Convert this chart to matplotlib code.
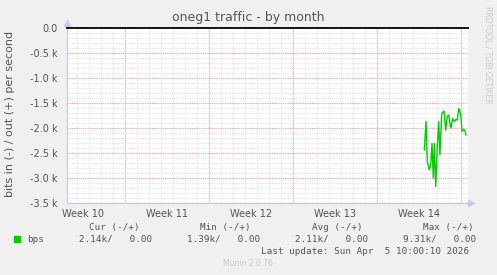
import matplotlib
matplotlib.use("Agg")
import matplotlib.pyplot as plt

# data (x = days from left edge, y = kbit/s, "in" drawn negative)
days = [29.78, 29.92, 30.03, 30.19, 30.31, 30.42, 30.53, 30.61, 30.73, 30.86,
        30.98, 31.08, 31.23, 31.42, 31.56, 31.69, 31.81, 31.92, 32.00, 32.14,
        32.28, 32.42, 32.53, 32.64, 32.75, 32.83, 32.92, 33.03, 33.14, 33.25]
bps_in = [-2.44, -1.87, -2.67, -2.84, -2.74, -2.31, -3.00, -2.31, -3.17, -2.37,
          -1.87, -2.54, -1.71, -1.66, -2.04, -1.77, -1.74, -1.91, -2.00, -1.81,
          -1.87, -1.83, -1.84, -1.61, -1.67, -1.77, -2.07, -2.03, -2.04, -2.14]

week_starts = [4.83, 11.83, 18.83, 25.83, 32.83]
week_labels = ["Week 10", "Week 11", "Week 12", "Week 13", "Week 14"]
y_ticks = [0.0, -0.5, -1.0, -1.5, -2.0, -2.5, -3.0, -3.5]
y_labels = ["0.0", "-0.5 k", "-1.0 k", "-1.5 k", "-2.0 k", "-2.5 k", "-3.0 k", "-3.5 k"]

headers = ["Cur (-/+)", "Min (-/+)", "Avg (-/+)", "Max (-/+)"]
stats = ["2.14k/   0.00", "1.39k/   0.00", "2.11k/   0.00", "9.31k/   0.00"]
last_update = "Last update: Sun Apr  5 10:00:10 2026"

W, H = 497, 275
x_end = 33.42

fig = plt.figure(figsize=(W / 100, H / 100), dpi=100, facecolor="#f0f0f0")
ax = fig.add_axes([67 / W, 72 / H, 401 / W, 175 / H])
ax.set_facecolor("white")
ax.set_xlim(0, x_end)
ax.set_ylim(-3.5, 0)

# grid: daily / 0.1k grey, weekly / 0.5k red
minor_c = "#e2e2e2"
major_c = "#f2a8a8"
d = week_starts[0] - 4
while d < x_end:
    ax.axvline(d, color=minor_c, lw=0.8, ls=(0, (1, 1)), zorder=1)
    d += 1
for i in range(1, 35):
    ax.axhline(-i / 10, color=minor_c, lw=0.8, ls=(0, (1, 1)), zorder=1)
for w in week_starts:
    ax.axvline(w, color=major_c, lw=0.8, ls=(0, (1, 1)), zorder=2)
for v in y_ticks[1:]:
    ax.axhline(v, color=major_c, lw=0.8, ls=(0, (1, 1)), zorder=2)

ax.axhline(0, color="black", lw=1.3, zorder=4, clip_on=False)
ax.plot(days, bps_in, color="#00cc00", lw=1.0, zorder=5)

for s in ["top", "right"]:
    ax.spines[s].set_visible(False)
for s in ["left", "bottom"]:
    ax.spines[s].set_color("#c8c8ee")
    ax.spines[s].set_linewidth(0.9)
ax.plot([0], [1.03], marker="^", ms=4.5, color="#c8c8ee", transform=ax.transAxes, clip_on=False)
ax.plot([1.008], [0], marker=">", ms=4.5, color="#c8c8ee", transform=ax.transAxes, clip_on=False)

mids = [w - 3.5 for w in week_starts]
ax.set_xticks(mids)
ax.set_xticklabels(week_labels)
ax.set_yticks(y_ticks)
ax.set_yticklabels(y_labels)
ax.tick_params(axis="both", length=0, labelsize=7, labelcolor="#555555")
ax.tick_params(axis="x", pad=4)
ax.tick_params(axis="y", pad=7)

def ftext(x, y, s, **kw):
    fig.text(x / W, 1 - y / H, s, **kw)

ftext(248, 18, "oneg1 traffic - by month", ha="center", va="center", fontsize=9, color="#555555")
ftext(10, 114, "bits in (-) / out (+) per second", ha="center", va="center",
      rotation=90, fontsize=8, color="#555555")
ftext(488, 6, "RRDTOOL / TOBI OETIKER", ha="center", va="top", rotation=270,
      fontsize=5.5, color="#c8c8c8")

mono = dict(family="DejaVu Sans Mono", fontsize=6.7, color="#555555", va="center")
for hx, h in zip([89, 200, 312, 423], headers):
    ftext(hx, 227.5, h, ha="left", **mono)
for sx, s in zip([79, 187, 295, 403], stats):
    ftext(sx, 239.5, s, ha="left", **mono)
ftext(27, 239.5, "bps", ha="left", **mono)
fig.patches.append(plt.Rectangle((14 / W, 1 - 242 / H), 6 / W, 6 / H,
                                 transform=fig.transFigure, color="#00cc00"))
ftext(261, 251, last_update, ha="left", **mono)
ftext(248, 264, "Munin 2.0.76", ha="center", va="center", fontsize=5.5, color="#c8c8c8")

fig.savefig("out.png", dpi=100, facecolor=fig.get_facecolor())
